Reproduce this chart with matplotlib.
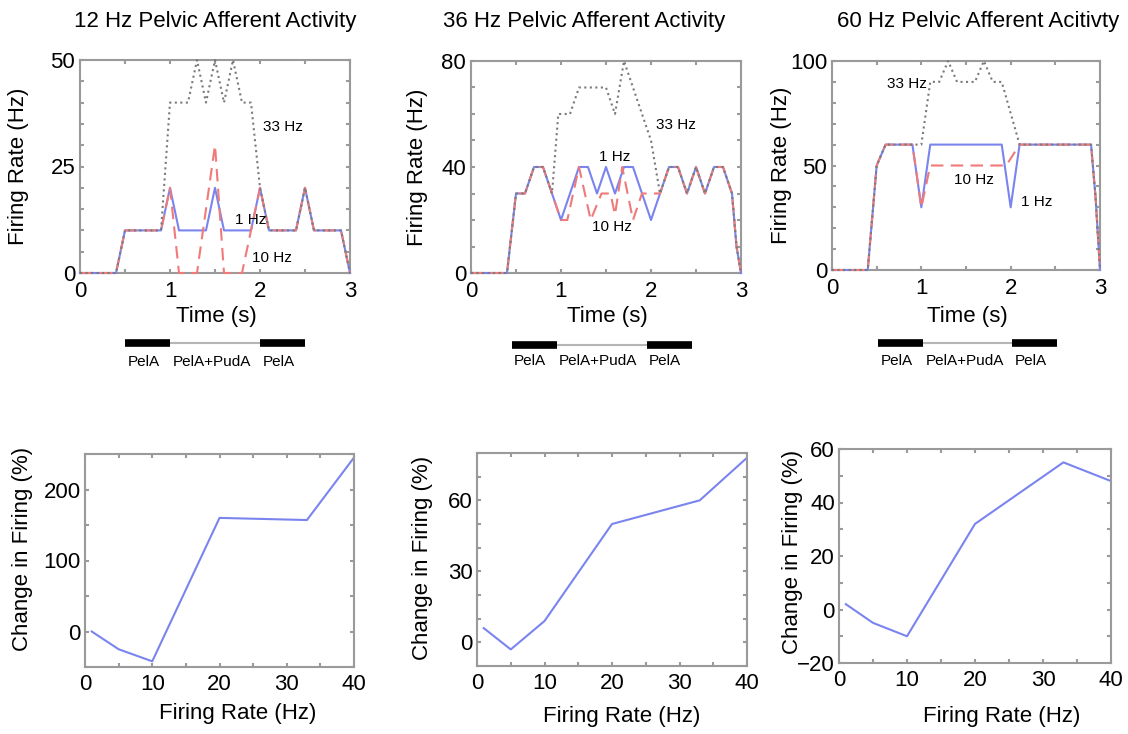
import matplotlib
matplotlib.use("Agg")
import matplotlib.pyplot as plt
from matplotlib.ticker import MultipleLocator
import matplotlib.transforms as mtransforms

plt.rcParams['font.family'] = ['Liberation Sans', 'DejaVu Sans']

# ---- top row: firing rate traces (time in s, rate in Hz) ----
t_12_1hz = [0, 0.4, 0.5, 0.9, 1.0, 1.1, 1.4, 1.5, 1.6, 1.9, 2.0, 2.1, 2.4, 2.5, 2.6, 2.9, 2.95, 3.0]
r_12_1hz = [0, 0, 10, 10, 20, 10, 10, 20, 10, 10, 20, 10, 10, 20, 10, 10, 5, 0]
t_12_10hz = [0, 0.4, 0.5, 0.9, 1.0, 1.1, 1.3, 1.5, 1.6, 1.8, 2.0, 2.1, 2.4, 2.5, 2.6, 2.9, 2.95, 3.0]
r_12_10hz = [0, 0, 10, 10, 20, 0, 0, 30, 0, 0, 20, 10, 10, 20, 10, 10, 5, 0]
t_12_33hz = [0, 0.4, 0.5, 0.9, 1.0, 1.2, 1.3, 1.4, 1.5, 1.6, 1.7, 1.8, 1.9, 2.0, 2.1, 2.4, 2.5, 2.6, 2.9, 2.95, 3.0]
r_12_33hz = [0, 0, 10, 10, 40, 40, 50, 40, 50, 40, 50, 40, 40, 20, 10, 10, 20, 10, 10, 5, 0]

t_36_1hz = [0, 0.4, 0.5, 0.6, 0.7, 0.8, 0.9, 1.0, 1.2, 1.3, 1.4, 1.5, 1.6, 1.7, 1.8, 2.0, 2.1,
            2.2, 2.3, 2.4, 2.5, 2.6, 2.7, 2.8, 2.9, 2.95, 3.0]
r_36_1hz = [0, 0, 30, 30, 40, 40, 30, 20, 40, 40, 30, 40, 30, 40, 40, 20, 30,
            40, 40, 30, 40, 30, 40, 40, 30, 10, 0]
t_36_10hz = [0, 0.4, 0.5, 0.6, 0.7, 0.8, 0.9, 1.0, 1.07, 1.2, 1.33, 1.45, 1.55, 1.6, 1.68, 1.8, 1.9,
             2.1, 2.2, 2.3, 2.4, 2.5, 2.6, 2.7, 2.8, 2.9, 2.95, 3.0]
r_36_10hz = [0, 0, 30, 30, 40, 40, 30, 20, 20, 40, 20, 30, 30, 22, 40, 20, 30,
             30, 40, 40, 30, 40, 30, 40, 40, 30, 10, 0]
t_36_33hz = [0, 0.4, 0.5, 0.6, 0.7, 0.8, 0.9, 0.97, 1.1, 1.2, 1.5, 1.6, 1.7, 2.0, 2.1,
             2.2, 2.3, 2.4, 2.5, 2.6, 2.7, 2.8, 2.9, 2.95, 3.0]
r_36_33hz = [0, 0, 30, 30, 40, 40, 30, 60, 60, 70, 70, 60, 80, 50, 30,
             40, 40, 30, 40, 30, 40, 40, 30, 10, 0]

t_60_1hz = [0, 0.4, 0.5, 0.6, 0.9, 1.0, 1.1, 1.9, 2.0, 2.1, 2.9, 2.95, 3.0]
r_60_1hz = [0, 0, 50, 60, 60, 30, 60, 60, 30, 60, 60, 35, 0]
t_60_10hz = [0, 0.4, 0.5, 0.6, 0.9, 1.0, 1.1, 1.95, 2.1, 2.9, 2.95, 3.0]
r_60_10hz = [0, 0, 50, 60, 60, 30, 50, 50, 60, 60, 35, 0]
t_60_33hz = [0, 0.4, 0.5, 0.6, 1.0, 1.1, 1.2, 1.3, 1.4, 1.6, 1.7, 1.8, 1.9, 2.1, 2.9, 2.95, 3.0]
r_60_33hz = [0, 0, 50, 60, 60, 90, 90, 100, 90, 90, 100, 90, 90, 60, 60, 35, 0]

# ---- bottom row: change in firing vs stimulation rate ----
rate = [1, 5, 10, 20, 33, 40]
chg_12 = [0, -25, -42, 160, 157, 245]
chg_36 = [6, -3, 9, 50, 60, 78]
chg_60 = [2, -5, -10, 32, 55, 48]

titles = ["12 Hz Pelvic Afferent Activity", "36 Hz Pelvic Afferent Activity",
          "60 Hz Pelvic Afferent Acitivty"]
stim_labels = ["PelA", "PelA+PudA", "PelA"]

BLUE = '#7a84ee'
RED = '#f07a7a'
GRAY = '#7a7a7a'
FRAME = '#9a9a9a'

W, H = 1128, 734
fig = plt.figure(figsize=(W / 100, H / 100), dpi=100)


def px_axes(l, t, r, b):
    return fig.add_axes([l / W, 1 - b / H, (r - l) / W, (b - t) / H])


def style(ax, xminor, yminor, xpad=6, ypad=3.5):
    for s in ax.spines.values():
        s.set_color(FRAME)
        s.set_linewidth(1.5)
    ax.xaxis.set_minor_locator(MultipleLocator(xminor))
    ax.yaxis.set_minor_locator(MultipleLocator(yminor))
    ax.tick_params(which='both', direction='in', length=3, width=1.5, color=FRAME,
                   top=True, right=True, labelsize=16)
    ax.tick_params(axis='x', pad=xpad)
    ax.tick_params(axis='y', pad=ypad)


# top row
top_boxes = [(80, 60, 350, 273), (471, 61, 741, 273), (832, 61, 1100, 270)]
top_data = [
    (t_12_1hz, r_12_1hz, t_12_10hz, r_12_10hz, t_12_33hz, r_12_33hz),
    (t_36_1hz, r_36_1hz, t_36_10hz, r_36_10hz, t_36_33hz, r_36_33hz),
    (t_60_1hz, r_60_1hz, t_60_10hz, r_60_10hz, t_60_33hz, r_60_33hz),
]
ymax = [50, 80, 100]
yticks = [[0, 25, 50], [0, 40, 80], [0, 50, 100]]
yminor = [5, 10, 10]
ylab_x = [-0.189, -0.16, -0.149]
xlab_y = [-0.155, -0.155, -0.172]
title_x = [215, 584, 978]
notes = [
    [("33 Hz", 2.03, 34.3), ("1 Hz", 1.72, 12.4), ("10 Hz", 1.91, 3.5)],
    [("33 Hz", 2.06, 56), ("1 Hz", 1.42, 43.7), ("10 Hz", 1.35, 17.4)],
    [("33 Hz", 0.62, 89), ("10 Hz", 1.37, 43.3), ("1 Hz", 2.12, 32.6)],
]
bar_y = [-0.329, -0.341, -0.347]
lab_y = [-0.418, -0.413, -0.435]
bar_shift = [0.0, -0.05, 0.02]

for i in range(3):
    ax = px_axes(*top_boxes[i])
    t1, r1, t10, r10, t33, r33 = top_data[i]
    ax.plot(t1, r1, color=BLUE, lw=1.5, clip_on=False, zorder=3)
    ax.plot(t10, r10, color=RED, lw=1.5, dashes=(6, 3.5), clip_on=False, zorder=3)
    ax.plot(t33, r33, color=GRAY, lw=1.5, ls=':', clip_on=False, zorder=3)
    ax.set_xlim(0, 3)
    ax.set_ylim(0, ymax[i])
    ax.set_xticks([0, 1, 2, 3])
    ax.set_yticks(yticks[i])
    style(ax, 0.5, yminor[i])
    ax.set_xlabel("Time (s)", fontsize=16)
    ax.set_ylabel("Firing Rate (Hz)", fontsize=16)
    ax.yaxis.set_label_coords(ylab_x[i], 0.5)
    ax.xaxis.set_label_coords(0.505, xlab_y[i])
    fig.text(title_x[i] / W, 1 - 27 / H, titles[i], fontsize=16, ha='center', va='baseline')
    for txt, x, y in notes[i]:
        ax.text(x, y, txt, fontsize=11, ha='left', va='center')

    # stimulation bar below the axis
    trans = mtransforms.blended_transform_factory(ax.transData, ax.transAxes)
    d = bar_shift[i]
    segs = [(0.5 + d, 1.0 + d), (1.0 + d, 2.0 + d), (2.0 + d, 2.5 + d)]
    for k, (a, b) in enumerate(segs):
        if k == 1:
            ax.plot([a, b], [bar_y[i], bar_y[i]], color='#b5b5b5', lw=1.5,
                    transform=trans, clip_on=False, solid_capstyle='butt')
        else:
            ax.plot([a, b], [bar_y[i], bar_y[i]], color='black', lw=5.5,
                    transform=trans, clip_on=False, solid_capstyle='butt')
        ax.text(a + 0.03, lab_y[i], stim_labels[k], fontsize=11, ha='left', va='center',
                transform=trans)

# bottom row
bot_boxes = [(85, 454, 354, 667), (477, 453, 747, 666), (839, 449, 1111, 663)]
bot_data = [chg_12, chg_36, chg_60]
bot_ylim = [(-50, 250), (-10, 80), (-20, 60)]
bot_yticks = [[0, 100, 200], [0, 30, 60], [-20, 0, 20, 40, 60]]
bot_yminor = [50, 10, 10]
bylab = [(-0.192, 0.553), (-0.163, 0.508), (-0.131, 0.518)]
bxlab = [(0.567, -0.171), (0.537, -0.189), (0.599, -0.2)]

for i in range(3):
    ax = px_axes(*bot_boxes[i])
    ax.plot(rate, bot_data[i], color=BLUE, lw=1.5)
    ax.set_xlim(0, 40)
    ax.set_ylim(*bot_ylim[i])
    ax.set_xticks([0, 10, 20, 30, 40])
    ax.set_yticks(bot_yticks[i])
    style(ax, 5, bot_yminor[i], xpad=5, ypad=3)
    ax.set_xlabel("Firing Rate (Hz)", fontsize=16)
    ax.set_ylabel("Change in Firing (%)", fontsize=16)
    ax.yaxis.set_label_coords(*bylab[i])
    ax.xaxis.set_label_coords(*bxlab[i])

fig.savefig("out.png", dpi=100)
